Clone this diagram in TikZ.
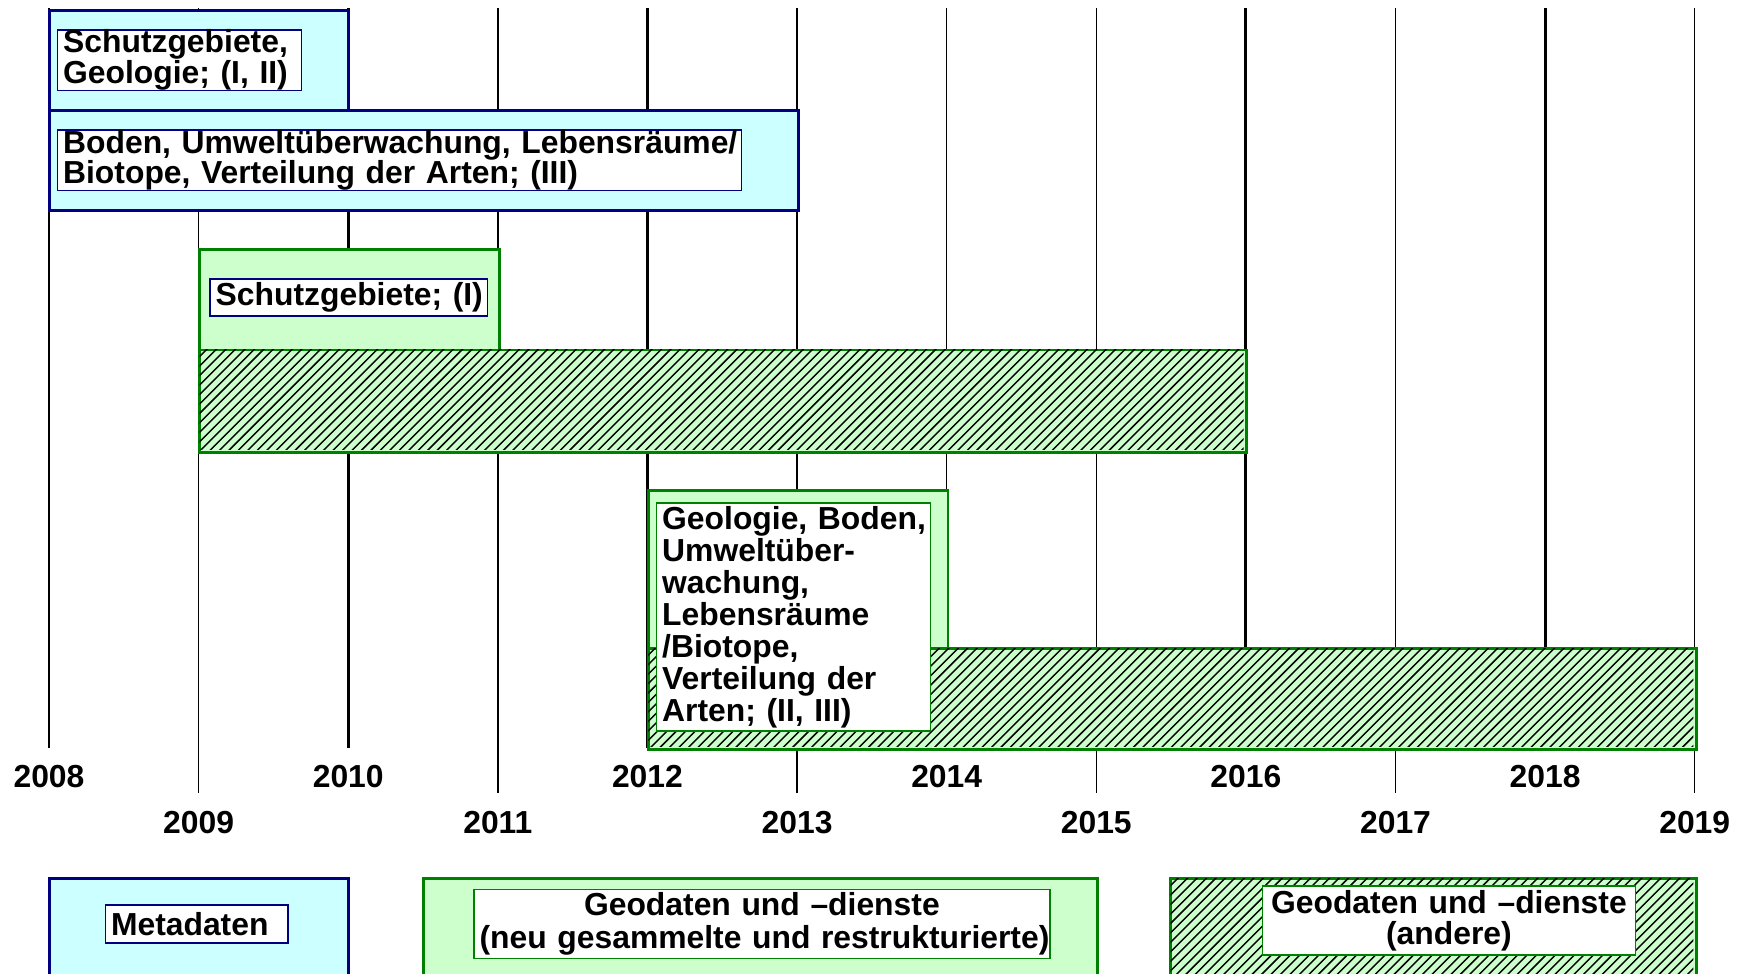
\documentclass[tikz,border=0pt]{standalone}
\usepackage{fontspec}
\setmainfont{Liberation Sans}
\definecolor{cyanfill}{HTML}{CCFFFF}
\definecolor{navy}{HTML}{000080}
\definecolor{greenfill}{HTML}{CCFFCC}
\definecolor{dgreen}{HTML}{008000}
\tikzset{
  barbase/.style={rectangle, anchor=north west, inner sep=0pt, line width=2.5pt},
  bluebar/.style={barbase, draw=navy, fill=cyanfill},
  greenbar/.style={barbase, draw=dgreen, fill=greenfill},
  hatchline/.style={line width=1.3pt, draw=black},
  txtbox/.style={rectangle, draw=navy, line width=1.4pt, fill=white, anchor=north west,
     inner xsep=5pt, inner ysep=0pt, align=left,
     font=\fontsize{28.6}{24}\selectfont\bfseries},
  gtxtbox/.style={txtbox, draw=dgreen},
  yrlbl/.style={font=\fontsize{28.6}{30}\selectfont\bfseries, inner sep=0pt},
  thinline/.style={line width=1.3pt, draw=black},
  thickline/.style={line width=2.6pt, draw=black}
}
% #1 x, #2 y (top), #3 width, #4 height : hatch lines inside the bar
\newcommand\myhatch[4]{%
  \begin{scope}
    \clip (#1+1.25,#2+1.25) rectangle (#1+#3-1.25,#2+#4-1.25);
    \pgfmathtruncatemacro{\hn}{(#3+#4)/8.5+2}
    \foreach \hk in {0,...,\hn}{
      \draw[hatchline] (#1-#4+\hk*8.5,#2+#4) -- ++(#4,-#4);
    }
  \end{scope}}
\begin{document}
\begin{tikzpicture}[x=1pt, y=-1pt]
\clip (0,0) rectangle (1568,874.7);
\fill[white] (0,0) rectangle (1568,874.7);
% year grid lines
\foreach \yr/\i/\st in {2008/0/thinline, 2009/1/thinline, 2010/2/thickline, 2011/3/thinline,
  2012/4/thickline, 2013/5/thinline, 2014/6/thinline, 2015/7/thinline,
  2016/8/thickline, 2017/9/thinline, 2018/10/thickline, 2019/11/thinline}{
  \pgfmathsetmacro{\xx}{44+134.36*\i}
  \pgfmathtruncatemacro{\odd}{mod(\i,2)}
  \ifnum\odd=0
    \coordinate (t\yr) at (\xx,7);
    \coordinate (b\yr) at (\xx,672);
    \node[yrlbl] (y\yr) at (\xx,697) {\yr};
  \else
    \coordinate (t\yr) at (\xx,7);
    \coordinate (b\yr) at (\xx,712);
    \node[yrlbl] (y\yr) at (\xx,739) {\yr};
  \fi
  \draw[\st] (t\yr) -- (b\yr);
}
% bars
\node[bluebar, minimum width=269pt, minimum height=90pt] (A) at (43,8) {};
\node[bluebar, minimum width=673pt, minimum height=90pt] (B) at (43,98) {};
\node[greenbar, minimum width=269pt, minimum height=90pt] (C) at (178,223) {};
\node[greenbar, minimum width=940pt, minimum height=92pt] (D) at (178,313) {};
\myhatch{178}{313}{940}{92}
\node[greenbar, minimum width=269pt, minimum height=142pt] (E) at (581,439) {};
\node[greenbar, minimum width=941pt, minimum height=91pt] (F) at (581,581) {};
\myhatch{581}{581}{941}{91}
% text boxes
\node[txtbox, text width=209pt, minimum height=52pt] (tA) at (51,26)
  {\mbox{Schutzgebiete,}\\\mbox{Geologie; (I, II)}};
\node[txtbox, text width=604pt, minimum height=52pt] (tB) at (51,116)
  {\mbox{Boden, Umweltüberwachung, Lebensräume/}\\\mbox{Biotope, Verteilung der Arten; (III)}};
\node[txtbox, text width=239pt, minimum height=33pt] (tC) at (188,250)
  {\mbox{Schutzgebiete; (I)}};
\node[gtxtbox, text width=236pt, minimum height=205pt,
      font=\fontsize{28.6}{28.7}\selectfont\bfseries] (tE) at (589,451)
  {\mbox{Geologie, Boden,}\\\mbox{Umweltüber-}\\\mbox{wachung,}\\\mbox{Lebensräume}\\\mbox{/Biotope,}\\\mbox{Verteilung der}\\\mbox{Arten; (II, III)}};
% legend
\node[bluebar, minimum width=269pt, minimum height=110pt] (LA) at (43,788) {};
\node[greenbar, minimum width=605pt, minimum height=110pt] (LB) at (379,788) {};
\node[greenbar, minimum width=472pt, minimum height=110pt] (LC) at (1050,788) {};
\myhatch{1050}{788}{472}{110}
\node[txtbox, text width=154pt, minimum height=34pt] (tLA) at (94,812)
  {\mbox{Metadaten}};
\node[gtxtbox, text width=507pt, minimum height=62pt, align=center,
      font=\fontsize{28.6}{29}\selectfont\bfseries] (tLB) at (425,798)
  {\mbox{Geodaten und –dienste}\\\mbox{(neu gesammelte und restrukturierte)}};
\node[gtxtbox, text width=325pt, minimum height=62pt, align=center,
      font=\fontsize{28.6}{28}\selectfont\bfseries] (tLC) at (1133,795)
  {\mbox{Geodaten und –dienste}\\\mbox{(andere)}};
\end{tikzpicture}
\end{document}
